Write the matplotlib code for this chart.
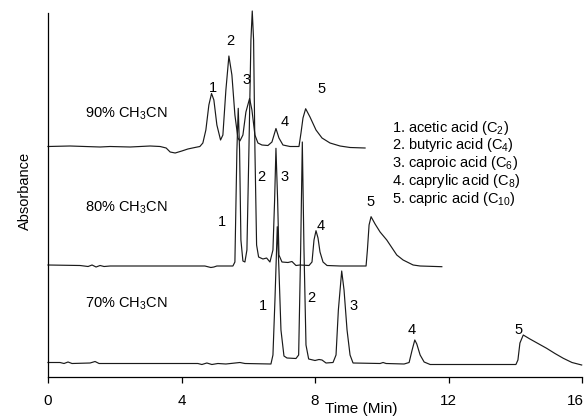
import numpy as np
import matplotlib
matplotlib.use("Agg")
import matplotlib.pyplot as plt
import matplotlib.transforms as mtransforms

plt.rcParams['font.family'] = ['Liberation Sans', 'DejaVu Sans']
plt.rcParams['mathtext.default'] = 'regular'

# chromatograms: time (min) and signal above each trace's own baseline
t_90 = [0.00, 0.66, 1.56, 1.86, 2.46, 3.06, 3.36, 3.54, 3.66, 3.81, 4.01, 4.19, 4.40,
        4.55, 4.64, 4.73, 4.82, 4.90, 4.97, 5.06, 5.17, 5.24, 5.33, 5.42, 5.51, 5.60,
        5.69, 5.75, 5.84, 5.93, 6.04, 6.11, 6.20, 6.29, 6.41, 6.59, 6.71, 6.83, 6.92,
        7.04, 7.25, 7.52, 7.58, 7.64, 7.72, 7.85, 8.03, 8.21, 8.45, 8.75, 9.05, 9.50]
a_90 = [0.0, 0.5, -0.5, 0.0, -0.5, 0.5, 0.0, -1.5, -5.5, -6.5, -4.5, -2.5, -1.0,
        0.0, 3.5, 16.5, 41.5, 53.0, 46.5, 21.5, 6.5, 11.5, 56.5, 90.5, 71.5, 31.5,
        8.5, 5.5, 11.5, 34.5, 48.0, 36.5, 11.5, 3.5, 1.5, 1.0, 4.5, 18.0, 8.5,
        1.5, 0.0, 0.0, 13.5, 28.5, 37.8, 29.5, 16.5, 8.5, 3.5, 0.5, -1.0, -1.5]

t_80 = [0.00, 0.96, 1.20, 1.32, 1.44, 1.56, 1.68, 1.86, 3.36, 4.70, 4.88, 4.97, 5.06,
        5.54, 5.60, 5.66, 5.70, 5.74, 5.78, 5.84, 5.90, 5.96, 6.02, 6.08, 6.12, 6.16,
        6.20, 6.25, 6.31, 6.44, 6.55, 6.65, 6.74, 6.79, 6.83, 6.88, 6.92, 7.01, 7.19,
        7.31, 7.43, 7.55, 7.82, 7.91, 7.97, 8.03, 8.09, 8.15, 8.24, 8.36, 8.75, 9.53,
        9.57, 9.62, 9.68, 9.80, 9.95, 10.15, 10.31, 10.45, 10.64, 10.94, 11.15, 11.80]
a_80 = [1.0, 0.5, -0.5, 1.0, -1.0, 0.5, -0.5, 0.0, 0.0, 0.0, -1.5, -1.0, 0.0,
        0.0, 4.0, 116.0, 157.7, 116.0, 26.0, 5.0, 4.0, 16.0, 116.0, 226.0, 255.0, 226.0,
        116.0, 21.0, 9.0, 7.0, 8.0, 4.0, 16.0, 66.0, 117.7, 66.0, 11.0, 4.0, 3.5,
        4.5, 0.5, 1.0, 0.5, 4.0, 26.0, 35.3, 28.0, 14.0, 4.0, 0.5, 0.0, 0.0,
        16.0, 41.0, 49.3, 42.0, 34.0, 26.0, 18.0, 11.0, 6.0, 1.0, 0.0, -0.7]

t_70 = [0.00, 0.36, 0.48, 0.60, 0.72, 1.26, 1.41, 1.53, 2.76, 4.49, 4.61, 4.76, 4.91,
        5.09, 5.33, 5.75, 5.90, 6.68, 6.74, 6.80, 6.87, 6.92, 6.98, 7.07, 7.16, 7.43,
        7.51, 7.57, 7.62, 7.67, 7.73, 7.81, 8.00, 8.12, 8.21, 8.33, 8.54, 8.63, 8.70,
        8.80, 8.87, 8.96, 9.05, 9.14, 9.95, 10.04, 10.13, 10.67, 10.82, 10.91, 10.99,
        11.05, 11.15, 11.27, 11.45, 14.02, 14.08, 14.14, 14.24, 14.44, 14.94, 15.19,
        15.44, 15.70, 15.99]
a_70 = [1.0, 1.0, 0.0, 1.5, 0.0, 0.5, 2.0, 0.0, 0.0, 0.0, -1.0, 0.5, -1.0,
        0.0, -0.5, 1.0, 0.0, -0.5, 8.5, 63.5, 136.8, 93.5, 33.5, 7.5, 5.5, 5.0,
        8.5, 113.5, 221.5, 113.5, 18.5, 4.5, 3.0, 4.0, 3.5, 0.5, 1.0, 8.5, 53.5,
        92.5, 73.5, 33.5, 8.5, 0.5, 0.0, 1.0, 0.0, -0.5, 1.0, 13.5, 23.5,
        19.5, 8.5, 1.5, -1.0, -1.0, 3.5, 20.5, 28.5, 24.5, 15.2, 10.0,
        5.2, 1.0, -1.5]

traces = [("90% CH$_3$CN", t_90, a_90), ("80% CH$_3$CN", t_80, a_80), ("70% CH$_3$CN", t_70, a_70)]
offsets = [230.5, 111.0, 13.5]
trace_label_y = [263, 169, 73]

# peak number labels (time, height) for each trace
peak_labels = [
    [("1", 4.93, 288.7), ("2", 5.45, 336.3), ("3", 5.95, 297.0), ("4", 7.08, 254.7), ("5", 8.20, 287.7)],
    [("1", 5.20, 155.3), ("2", 6.40, 200.3), ("3", 7.08, 200.3), ("4", 8.17, 151.0), ("5", 9.65, 175.0)],
    [("1", 6.44, 71.0), ("2", 7.90, 79.0), ("3", 9.15, 71.0), ("4", 10.90, 47.0), ("5", 14.09, 47.0)],
]

legend_items = ["1. acetic acid (C$_2$)", "2. butyric acid (C$_4$)", "3. caproic acid (C$_6$)",
                "4. caprylic acid (C$_8$)", "5. capric acid (C$_{10}$)"]
xticks = [0, 4, 8, 12, 16]

fig = plt.figure(figsize=(5.88, 4.16), dpi=100)
ax = fig.add_axes([48 / 588, 39 / 416, 534 / 588, 369 / 416])
ax.set_xlim(0, 16)
ax.set_ylim(0, 369)

for (name, t, a), off, ly in zip(traces, offsets, trace_label_y):
    ax.plot(t, np.array(a) + off, color='#1a1a1a', lw=0.85, clip_on=False)
    ax.text(1.11, ly, name, fontsize=10.5, ha='left', va='center')

for labels in peak_labels:
    for txt, x, y in labels:
        ax.text(x, y, txt, fontsize=10.5, ha='center', va='center')

for i, item in enumerate(legend_items):
    ax.text(10.30, 249.3 - i * 17.8, item, fontsize=10.5, ha='left', va='center')

for s in ['top', 'right']:
    ax.spines[s].set_visible(False)
ax.spines['left'].set_bounds(0, 364)
ax.spines['left'].set_linewidth(0.9)
ax.spines['bottom'].set_linewidth(0.9)
ax.set_yticks([])
ax.set_xticks(xticks)
ax.set_xticklabels([str(v) for v in xticks], family=['Liberation Sans Narrow', 'Liberation Sans'], fontsize=11)
ax.tick_params(axis='x', direction='out', length=4, width=0.9, pad=8)

# keep the last tick label inside the canvas
last = ax.get_xticklabels()[-1]
last.set_transform(last.get_transform() + mtransforms.ScaledTranslation(-5 / 72, 0, fig.dpi_scale_trans))

ax.set_xlabel("Time (Min)", fontsize=11)
ax.xaxis.set_label_coords((361 - 48) / 534, (377 - 409) / 369)
ax.xaxis.label.set_va('center')
ax.set_ylabel("Absorbance", fontsize=10.5)
ax.yaxis.set_label_coords((25 - 48) / 534, (377 - 191) / 369)
ax.yaxis.label.set_va('center')

fig.savefig("out.png", dpi=100)
